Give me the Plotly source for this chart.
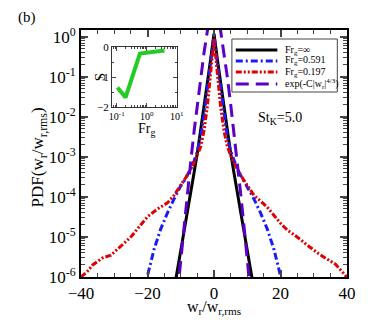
import plotly.graph_objects as go

# ---- data ----
x_inf = [-12, -11, -10, -9, -8, -7, -6, -5, -4, -3, -2, -1, 0, 1, 2, 3, 4, 5, 6, 7, 8, 9, 10, 11, 12]
pdf_inf = [5.0e-7, 1.4e-6, 4.5e-6, 1.4e-5, 4.0e-5, 1.26e-4, 4.0e-4, 1.26e-3, 4.5e-3, 1.8e-2, 7.1e-2, 0.28, 1.2,
           0.28, 7.1e-2, 1.8e-2, 4.5e-3, 1.26e-3, 4.0e-4, 1.26e-4, 4.0e-5, 1.4e-5, 5.0e-6, 1.6e-6, 5.0e-7]

x_591 = [-21, -20, -19, -18, -16, -14, -12, -10, -9, -8, -7, -6, -5, -4, -3, -2, -1, 0,
         1, 2, 3, 4, 5, 6, 7, 8, 9, 10, 12, 14, 16, 18, 19, 20, 21]
pdf_591 = [5.0e-7, 1.12e-6, 2.5e-6, 5.0e-6, 1.6e-5, 4.0e-5, 8.9e-5, 1.9e-4, 2.5e-4, 3.5e-4, 5.0e-4, 7.9e-4, 1.4e-3, 3.2e-3, 1.1e-2, 5.0e-2, 0.22, 1.12,
           0.22, 5.0e-2, 1.1e-2, 3.2e-3, 1.4e-3, 7.9e-4, 5.0e-4, 3.5e-4, 2.5e-4, 1.9e-4, 8.9e-5, 4.0e-5, 1.6e-5, 5.0e-6, 2.5e-6, 1.12e-6, 5.0e-7]

x_197 = [-40, -38, -36.5, -35, -33.5, -31, -29.5, -27.5, -25, -23, -20, -17, -14, -12, -10, -8, -6, -5, -4, -3, -2, -1, 0,
         1, 2, 3, 4, 5, 6, 8, 10, 12, 14, 16, 18, 20, 22, 25, 28, 31.5, 34, 36.5, 39.5, 40]
pdf_197 = [1.0e-6, 1.4e-6, 2.0e-6, 2.5e-6, 3.0e-6, 3.5e-6, 4.5e-6, 6.3e-6, 1.0e-5, 1.6e-5, 3.2e-5, 5.0e-5, 7.1e-5, 1.1e-4, 1.9e-4, 3.5e-4, 7.1e-4, 1.1e-3, 1.8e-3, 4.5e-3, 1.8e-2, 0.126, 0.89,
           0.126, 1.8e-2, 4.5e-3, 1.8e-3, 1.1e-3, 7.1e-4, 3.5e-4, 2.0e-4, 1.1e-4, 7.9e-5, 5.6e-5, 3.5e-5, 2.2e-5, 1.5e-5, 1.0e-5, 6.3e-6, 3.8e-6, 2.8e-6, 2.1e-6, 1.1e-6, 8.9e-7]

x_fit = [-11, -10, -9, -8, -7, -6, -5, -4, -3, -2, -1.5, -1, -0.5, 0, 0.5, 1, 1.5, 2, 3, 4, 5, 6, 7, 8, 9, 10, 11]
pdf_fit = [3.8e-7, 2.8e-6, 1.95e-5, 1.26e-4, 7.6e-4, 4.3e-3, 2.1e-2, 0.10, 0.40, 1.39, 2.4, 4.0, 6.0, 7.9,
           6.0, 4.0, 2.4, 1.39, 0.40, 0.10, 2.1e-2, 4.3e-3, 7.6e-4, 1.26e-4, 1.95e-5, 2.8e-6, 3.8e-7]

inset_fr = [0.105, 0.197, 0.591, 3.9]
inset_s = [-1.35, -1.68, -0.22, -0.12]

y_tickvals = [1e-6, 1e-5, 1e-4, 1e-3, 1e-2, 1e-1, 1e0]
y_ticktext = ["10<sup>-6</sup>", "10<sup>-5</sup>", "10<sup>-4</sup>", "10<sup>-3</sup>",
              "10<sup>-2</sup>", "10<sup>-1</sup>", "10<sup>0</sup>"]
x_tickvals = [-40, -20, 0, 20, 40]
ins_x_tickvals = [0.1, 1, 10]
ins_x_ticktext = ["10<sup>-1</sup>", "10<sup>0</sup>", "10<sup>1</sup>"]
ins_y_tickvals = [-2, -1, 0]

legend_labels = ["Fr<sub>g</sub>=∞", "Fr<sub>g</sub>=0.591", "Fr<sub>g</sub>=0.197",
                 "exp(-C|w<sub>r</sub>|<sup>4/3</sup>)"]

FONT = "Liberation Serif, Times New Roman, serif"
BLACK = "#000000"
BLUE = "#1a1aff"
RED = "#e00000"
PURPLE = "#5c00c8"
GREEN = "#22cc22"

styles = [
    dict(color=BLACK, width=3, dash="solid"),
    dict(color=BLUE, width=3, dash="7px,3px,2px,3px"),
    dict(color=RED, width=3, dash="6px,2px,2px,2px,2px,2px"),
    dict(color=PURPLE, width=3, dash="13px,7px"),
]

fig = go.Figure()
series = [(x_inf, pdf_inf), (x_591, pdf_591), (x_197, pdf_197), (x_fit, pdf_fit)]
for (xs, ys), st, name in zip(series, styles, legend_labels):
    fig.add_trace(go.Scatter(x=xs, y=ys, mode="lines", line=st, name=name,
                             showlegend=False, xaxis="x", yaxis="y"))

fig.add_trace(go.Scatter(x=inset_fr, y=inset_s, mode="lines",
                         line=dict(color=GREEN, width=4), showlegend=False,
                         xaxis="x2", yaxis="y2"))

# page body has an 8px margin on every side; size figure so the page is exactly the window
OFF = 8
W, H = 368 - 2 * OFF, 327 - 2 * OFF
# plot area in page pixels: x 81..356, y 30..277
PL, PR, PT, PB = 81, 356, 30, 277
L, T = PL - OFF, PT - OFF
R = W - (PR - OFF)
B = H - (PB - OFF)
pw, ph = PR - PL, PB - PT


def px(xp):
    return (xp - PL) / pw


def py(yp):
    return (PB - yp) / ph


fig.update_layout(
    width=W, height=H,
    margin=dict(l=L, r=R, t=T, b=B),
    paper_bgcolor="white", plot_bgcolor="white",
    font=dict(family=FONT, color="black"),
    showlegend=False,
    xaxis=dict(range=[-40, 40], tickvals=x_tickvals, ticks="inside", ticklen=7, tickwidth=1.5,
               showline=True, linecolor="black", linewidth=2, mirror="allticks",
               showgrid=False, zeroline=False, tickfont=dict(size=17, family=FONT),
               minor=dict(ticks="inside", ticklen=4, dtick=5, tickwidth=1, showgrid=False)),
    yaxis=dict(type="log", range=[-6, 0.17], tickvals=y_tickvals, ticktext=y_ticktext,
               ticks="inside", ticklen=7, tickwidth=1.5,
               showline=True, linecolor="black", linewidth=2, mirror="allticks",
               showgrid=False, zeroline=False, tickfont=dict(size=17, family=FONT),
               minor=dict(ticks="inside", ticklen=4, dtick="D1", tickwidth=1, showgrid=False)),
    xaxis2=dict(type="log", domain=[px(113), px(180)], anchor="y2", range=[-1.16, 1.0],
                tickvals=ins_x_tickvals, ticktext=ins_x_ticktext, ticks="inside", ticklen=4,
                showline=True, linecolor="#333333", linewidth=1, mirror="allticks",
                showgrid=False, zeroline=False, tickfont=dict(size=10, family=FONT),
                minor=dict(ticks="inside", ticklen=2, dtick="D1", showgrid=False)),
    yaxis2=dict(domain=[py(107), py(47)], anchor="x2", range=[-2, 0],
                tickvals=ins_y_tickvals, ticks="inside", ticklen=4,
                showline=True, linecolor="#333333", linewidth=1, mirror="allticks",
                showgrid=False, zeroline=False, tickfont=dict(size=11, family=FONT),
                minor=dict(ticks="inside", ticklen=2, dtick=0.5, showgrid=False)),
)

shapes = []
shapes.append(dict(type="rect", xref="paper", yref="paper", x0=px(237), x1=px(346),
                   y0=py(92), y1=py(39), line=dict(color="#444444", width=1),
                   fillcolor="white", layer="above"))
rows = [50, 61, 72, 84]
annotations = []
for r, st, lab in zip(rows, styles, legend_labels):
    shapes.append(dict(type="line", xref="paper", yref="paper", x0=px(241), x1=px(284),
                       y0=py(r), y1=py(r), line=st, layer="above"))
    annotations.append(dict(x=px(290), y=py(r), xref="paper", yref="paper", text=lab,
                            showarrow=False, xanchor="left", yanchor="middle",
                            font=dict(size=10, family=FONT)))


def ann(x, y, text, size, angle=0):
    return dict(x=px(x), y=py(y), xref="paper", yref="paper", text=text, showarrow=False,
                xanchor="center", yanchor="middle", textangle=angle,
                font=dict(size=size, family=FONT))


annotations += [
    ann(25, 18, "(b)", 15),
    ann(287, 119, "St<sub>K</sub>=5.0", 14),
    ann(38, 157, "PDF(w<sub>r</sub>/w<sub>r,rms</sub>)", 17, -90),
    ann(219, 307, "w<sub>r</sub>/w<sub>r,rms</sub>", 16),
    ann(101, 77, "S", 15, -90),
    ann(149, 129, "Fr<sub>g</sub>", 14),
]

fig.update_layout(shapes=shapes, annotations=annotations)
fig.write_html("out.html")
